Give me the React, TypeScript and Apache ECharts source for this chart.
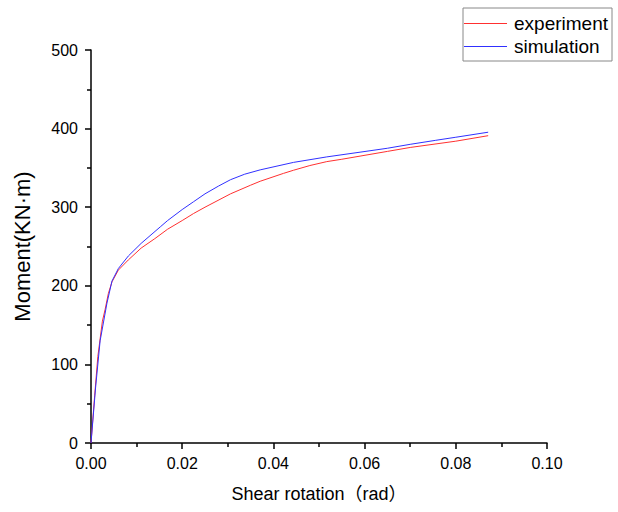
import React, { useEffect, useRef } from "react";
import * as echarts from "echarts";

const experimentData: [number, number][] = [
  [0, 0], [0.0008, 60], [0.0015, 110], [0.0025, 155], [0.0031, 170], [0.0038, 190],
  [0.0046, 205], [0.006, 220], [0.0082, 233], [0.011, 248], [0.014, 260], [0.0168, 272],
  [0.02, 283], [0.0225, 292], [0.025, 300], [0.0306, 317], [0.035, 328], [0.0371, 333],
  [0.0422, 343], [0.0444, 347], [0.048, 353], [0.0517, 358], [0.055, 361], [0.059, 365],
  [0.065, 371], [0.07, 376], [0.075, 380], [0.08, 384], [0.0871, 391],
];

const simulationData: [number, number][] = [
  [0, 0], [0.001, 70], [0.002, 130], [0.0035, 178], [0.0046, 206], [0.006, 222],
  [0.0082, 238], [0.011, 254], [0.0152, 275], [0.0168, 283], [0.02, 297], [0.0225, 307],
  [0.025, 317], [0.028, 327], [0.0306, 335], [0.0337, 342], [0.0371, 347.5], [0.0444, 357],
  [0.0517, 364], [0.059, 370], [0.065, 375], [0.07, 380], [0.0755, 385], [0.08, 389],
  [0.0871, 395.4],
];

const seriesNames = ["experiment", "simulation"];
const xTitle = "Shear rotation（rad）";
const yTitle = "Moment(KN·m)";

const FONT = "'Liberation Sans', Arial, 'Noto Sans CJK SC', sans-serif";

export default function App() {
  const ref = useRef<HTMLDivElement>(null);
  useEffect(() => {
    if (!ref.current) return;
    const chart = echarts.init(ref.current, undefined, { renderer: "svg" });
    const axisCommon = {
      axisLine: { show: true, lineStyle: { color: "#000", width: 1.5 } },
      axisTick: { show: true, inside: false, length: 6, lineStyle: { color: "#000", width: 1.5 } },
      minorTick: { show: true, splitNumber: 2, length: 4, lineStyle: { color: "#000", width: 1.5 } },
      splitLine: { show: false },
      axisLabel: { color: "#000", fontSize: 16, fontFamily: FONT },
      nameLocation: "middle" as const,
    };
    chart.setOption({
      animation: false,
      backgroundColor: "#fff",
      textStyle: { fontFamily: FONT },
      grid: { left: 91, right: 71, top: 50, bottom: 69, containLabel: false },
      legend: {
        orient: "vertical",
        right: 6,
        top: 8,
        data: seriesNames.map((n) => ({ name: n, icon: "rect" })),
        borderColor: "#888",
        borderWidth: 1,
        borderRadius: 0,
        padding: [6, 4, 5, 1],
        itemGap: 4,
        itemWidth: 43,
        itemHeight: 1,
        textStyle: { color: "#000", fontSize: 19, fontFamily: FONT, padding: [0, 0, 0, 2] },
      },
      xAxis: {
        ...axisCommon,
        type: "value",
        min: 0,
        max: 0.1,
        interval: 0.02,
        name: xTitle,
        nameGap: 42,
        nameTextStyle: { color: "#000", fontSize: 18, fontFamily: FONT },
        axisLabel: { ...axisCommon.axisLabel, margin: 12, formatter: (v: number) => v.toFixed(2) },
      },
      yAxis: {
        ...axisCommon,
        type: "value",
        min: 0,
        max: 500,
        interval: 100,
        name: yTitle,
        nameGap: 58,
        nameTextStyle: { color: "#000", fontSize: 22, fontFamily: FONT },
        axisLabel: { ...axisCommon.axisLabel, margin: 13 },
      },
      series: [
        {
          name: seriesNames[0],
          type: "line",
          data: experimentData,
          symbol: "none",
          smooth: false,
          lineStyle: { color: "#ff3030", width: 1 },
          itemStyle: { color: "#ff3030" },
        },
        {
          name: seriesNames[1],
          type: "line",
          data: simulationData,
          symbol: "none",
          smooth: false,
          lineStyle: { color: "#3030ff", width: 1 },
          itemStyle: { color: "#3030ff" },
        },
      ],
    });
    return () => chart.dispose();
  }, []);
  return <div ref={ref} style={{ width: 618, height: 512, position: "absolute", left: 0, top: 0 }} />;
}
